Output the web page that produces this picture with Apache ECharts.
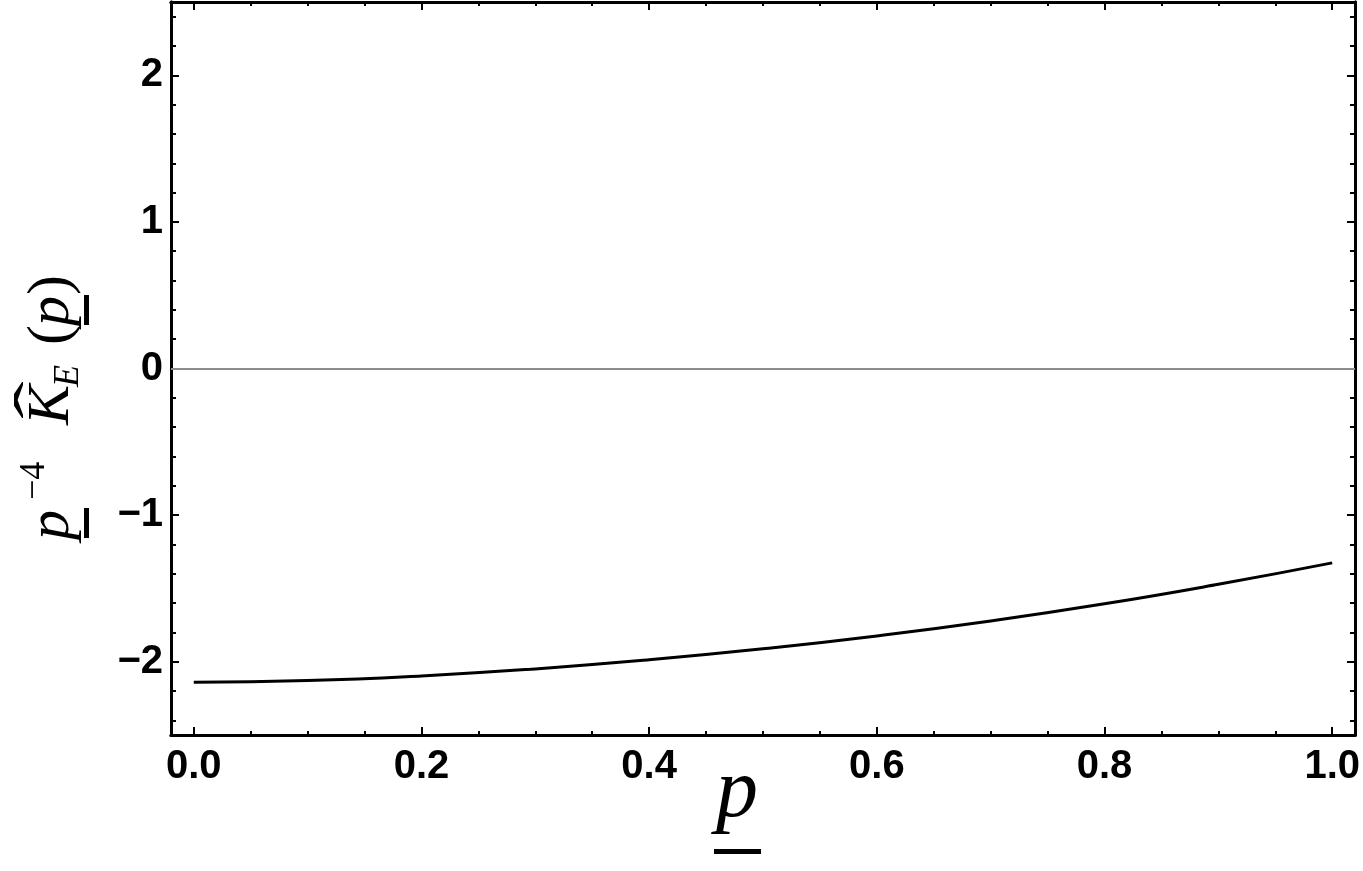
<!DOCTYPE html>
<html>
<head>
<meta charset="utf-8">
<script src="https://cdn.jsdelivr.net/npm/echarts@6/dist/echarts.min.js"></script>
<style>
html,body{margin:0;padding:0;background:#fff;}
#chart{width:1363px;height:871px;}
</style>
</head>
<body>
<div id="chart"></div>
<script>
// ---- data ----
const pValues = [0, 0.1, 0.2, 0.3, 0.4, 0.5, 0.6, 0.7, 0.8, 0.9, 1.0];
const kValues = [-2.141, -2.129, -2.097, -2.049, -1.987, -1.912, -1.824, -1.722, -1.605, -1.472, -1.326];
const xTickValues = [0, 0.2, 0.4, 0.6, 0.8, 1.0];
const xMinorValues = [0.05, 0.1, 0.15, 0.25, 0.3, 0.35, 0.45, 0.5, 0.55, 0.65, 0.7, 0.75, 0.85, 0.9, 0.95];
const yTickValues = [-2, -1, 0, 1, 2];
const yMinorValues = [-2.4, -2.2, -1.8, -1.6, -1.4, -1.2, -0.8, -0.6, -0.4, -0.2, 0.2, 0.4, 0.6, 0.8, 1.2, 1.4, 1.6, 1.8, 2.2, 2.4];
const xRange = [-0.02, 1.02];
const yRange = [-2.5, 2.5];

const frame = {show: true, onZero: false, lineStyle: {color: '#000', width: 3}};
const labelFont = {fontFamily: 'Liberation Sans', fontWeight: 'bold', fontSize: 40, color: '#000'};

function xAxisDef(position, ticks, len, labels) {
  return {
    type: 'value', position: position, min: xRange[0], max: xRange[1],
    axisLine: frame,
    axisTick: {show: true, inside: true, length: len, customValues: ticks, lineStyle: {color: '#000', width: 2}},
    axisLabel: labels ? Object.assign({show: true, margin: 12, customValues: ticks,
      formatter: v => Number(v).toFixed(1)}, labelFont) : {show: false},
    splitLine: {show: false}
  };
}
function yAxisDef(position, ticks, len, labels) {
  return {
    type: 'value', position: position, min: yRange[0], max: yRange[1],
    axisLine: frame,
    axisTick: {show: true, inside: true, length: len, customValues: ticks, lineStyle: {color: '#000', width: 2}},
    axisLabel: labels ? Object.assign({show: true, margin: 8, customValues: ticks,
      formatter: v => (v < 0 ? '\u2212' + Math.abs(v) : String(v))}, labelFont) : {show: false},
    splitLine: {show: false}
  };
}

const chart = echarts.init(document.getElementById('chart'), null, {renderer: 'canvas'});
const serif = 'Liberation Serif';
chart.setOption({
  animation: false,
  backgroundColor: '#fff',
  grid: {left: 171, right: 7, top: 2, bottom: 136, containLabel: false},
  xAxis: [
    xAxisDef('bottom', xTickValues, 8, true),
    xAxisDef('bottom', xMinorValues, 4, false),
    xAxisDef('top', xTickValues, 8, false),
    xAxisDef('top', xMinorValues, 4, false)
  ],
  yAxis: [
    yAxisDef('left', yTickValues, 8, true),
    yAxisDef('left', yMinorValues, 5, false),
    yAxisDef('right', yTickValues, 8, false),
    yAxisDef('right', yMinorValues, 5, false)
  ],
  series: [{
    type: 'line',
    xAxisIndex: 0, yAxisIndex: 0,
    data: pValues.map((p, i) => [p, kValues[i]]),
    smooth: 0.5,
    showSymbol: false,
    lineStyle: {color: '#000', width: 3},
    markLine: {
      silent: true, symbol: 'none', label: {show: false},
      lineStyle: {color: '#8c8c8c', width: 2, type: 'solid'},
      data: [{yAxis: 0}]
    },
    z: 3
  }],
  graphic: [
    {
      type: 'group', x: 0, y: 540, rotation: Math.PI / 2,
      children: [
        {type: 'text', x: 0, y: 52, style: {text: 'p', font: 'italic 60px ' + serif, fill: '#000', textVerticalAlign: 'middle'}},
        {type: 'rect', shape: {x: 2, y: 84, width: 30, height: 5}, style: {fill: '#000'}},
        {type: 'text', x: 40, y: 35, style: {text: '\u22124', font: 'normal 36px ' + serif, fill: '#000', textVerticalAlign: 'middle'}},
        {type: 'text', x: 115, y: 52, style: {text: 'K', font: 'italic 60px ' + serif, fill: '#000', textVerticalAlign: 'middle'}},
        {type: 'text', x: 140, y: 39, scaleX: 1.9, style: {text: '\u02C6', font: 'normal 60px ' + serif, fill: '#000', textAlign: 'center', textVerticalAlign: 'middle'}},
        {type: 'text', x: 153, y: 69, style: {text: 'E', font: 'italic 36px ' + serif, fill: '#000', textVerticalAlign: 'middle'}},
        {type: 'text', x: 195, y: 52, style: {text: '(', font: 'normal 60px ' + serif, fill: '#000', textVerticalAlign: 'middle'}},
        {type: 'text', x: 214, y: 52, style: {text: 'p', font: 'italic 60px ' + serif, fill: '#000', textVerticalAlign: 'middle'}},
        {type: 'rect', shape: {x: 215, y: 84, width: 30, height: 5}, style: {fill: '#000'}},
        {type: 'text', x: 245, y: 52, style: {text: ')', font: 'normal 60px ' + serif, fill: '#000', textVerticalAlign: 'middle'}}
      ]
    },
    {type: 'text', x: 737, y: 794, style: {text: 'p', font: 'italic 84px ' + serif, fill: '#000', textAlign: 'center', textVerticalAlign: 'middle'}},
    {type: 'rect', shape: {x: 714, y: 849, width: 47, height: 5}, style: {fill: '#000'}}
  ]
});
</script>
</body>
</html>
